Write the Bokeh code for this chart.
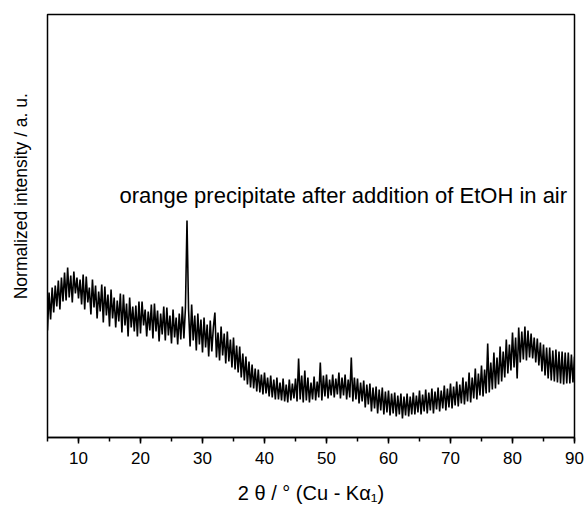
import numpy as np
from bokeh.plotting import figure
from bokeh.layouts import row
from bokeh.models import Range1d, SingleIntervalTicker, Label
from bokeh.embed import file_html
from bokeh.resources import INLINE

# ---- data (arbitrary intensity units) ----
two_theta = np.arange(5.0, 90.001, 0.25)
intensity = [
    107, 145, 118, 150,  125, 152, 131, 157,  128, 160, 136, 165,  137, 170, 140, 162,  135, 166, 144, 160,  # 5-9
    139, 158, 133, 163,  128, 161, 135, 150,  123, 158, 130, 152,  119, 146, 126, 153,  115, 151, 122, 143,  # 10-14
    111, 148, 119, 140,  110, 137, 116, 144,  105, 143, 112, 134,  101, 140, 110, 131,  106, 132, 101, 136,  # 15-19
    104, 136, 112, 128,  101, 126, 107, 133,  99, 134, 106, 127,   96, 124, 103, 131,   97, 130, 102, 122,   # 20-24
    94, 128, 100, 120,   93, 124, 98, 131,    99, 130, 217, 128,   91, 133, 97, 122,    87, 124, 93, 118,    # 25-29
    85, 120, 90, 113,    81, 117, 86, 110,    125, 80, 105, 77,    111, 82, 104, 74,    106, 76, 98, 70,     # 30-34
    100, 68, 92, 65,     91, 60, 84, 57,      81, 53, 76, 50,      73, 49, 69, 46,      68, 45, 63, 43,      # 35-39
    65, 44, 60, 41,      62, 40, 58, 38,      60, 38, 55, 37,      59, 36, 53, 35,      58, 37, 54, 39,      # 40-44
    59, 36, 79, 38,      62, 35, 67, 37,      60, 35, 55, 38,      61, 37, 56, 40,      75, 37, 62, 41,      # 45-49
    63, 39, 58, 42,      63, 40, 59, 43,      65, 39, 60, 42,      63, 38, 58, 40,      80, 36, 60, 38,      # 50-54
    59, 34, 55, 36,      57, 30, 53, 33,      54, 26, 50, 29,      51, 24, 48, 27,      50, 23, 46, 25,      # 55-59
    47, 22, 44, 24,      45, 21, 42, 23,      44, 19, 41, 22,      44, 21, 41, 23,      45, 23, 42, 25,      # 60-64
    47, 23, 43, 26,      48, 24, 45, 27,      49, 24, 46, 28,      50, 26, 47, 29,      52, 27, 49, 30,      # 65-69
    54, 29, 51, 32,      56, 31, 53, 34,      60, 33, 56, 36,      65, 35, 60, 39,      69, 38, 64, 42,      # 70-74
    72, 41, 68, 44,      94, 45, 75, 48,      85, 49, 80, 53,      91, 56, 86, 60,      98, 64, 93, 67,      # 75-79
    105, 70, 100, 59,    110, 75, 106, 78,    111, 77, 107, 80,    104, 79, 100, 75,    99, 72, 95, 66,      # 80-84
    93, 62, 90, 59,      90, 57, 87, 56,      88, 55, 86, 54,      86, 53, 85, 54,      85, 54, 83, 55,      # 85-89
    81,                                                                                                    # 90
]
x_tick_interval = 10
annotation_text = "orange precipitate after addition of EtOH in air"
y_title = "Normalized intensity / a. u."
x_title = "2 θ / ° (Cu - Kα₁)"

FONT = "Liberation Sans"

W, H = 587, 508
YT_W = 40            # width of the strip holding the y title
LEFT, TOP, BOTTOM = 47, 14, 437   # frame edges in page pixels
RIGHT_BORDER = 13
SCALE_X = (W - RIGHT_BORDER - LEFT) / 85.0


def dx(px):
    return 5 + (px - LEFT) / SCALE_X


def dy(py):
    return BOTTOM - py


# ---- main plot ----
p = figure(width=W - YT_W, height=H, output_backend="svg", toolbar_location=None,
           title=None, y_axis_location=None,
           x_range=Range1d(5, 90), y_range=Range1d(0, 423),
           min_border_left=LEFT - YT_W, min_border_right=RIGHT_BORDER,
           min_border_top=TOP, min_border_bottom=H - BOTTOM)

p.line(two_theta, intensity, line_color="black", line_width=1.6)

p.grid.visible = False
p.outline_line_color = "black"
p.outline_line_width = 1.5
p.outline_line_alpha = 1.0

xa = p.xaxis[0]
xa.ticker = SingleIntervalTicker(interval=x_tick_interval, num_minor_ticks=2)
xa.axis_line_color = "black"
xa.axis_line_width = 1.5
xa.major_tick_line_color = "black"
xa.minor_tick_line_color = "black"
xa.major_tick_line_width = 1.5
xa.minor_tick_line_width = 1.5
xa.major_tick_in = 0
xa.minor_tick_in = 0
xa.major_tick_out = 6
xa.minor_tick_out = 4
xa.major_label_text_font = FONT
xa.major_label_text_font_size = "17px"
xa.major_label_text_color = "black"
xa.major_label_standoff = 8
xa.axis_label = x_title
xa.axis_label_text_font = FONT
xa.axis_label_text_font_size = "20px"
xa.axis_label_text_font_style = "normal"
xa.axis_label_text_color = "black"
xa.axis_label_standoff = 15

p.add_layout(Label(x=dx(119), y=dy(195), text=annotation_text,
                   text_font=FONT, text_font_size="22px", text_color="black",
                   text_align="left", text_baseline="alphabetic"))

# ---- y title strip ----
yf = figure(width=YT_W, height=H, output_backend="svg", toolbar_location=None,
            title=None, x_axis_location=None, y_axis_location=None,
            x_range=Range1d(0, YT_W), y_range=Range1d(0, H),
            min_border=0, min_border_left=0, min_border_right=0,
            min_border_top=0, min_border_bottom=0)
yf.grid.visible = False
yf.outline_line_color = None
yf.add_layout(Label(x=20, y=H - 342, text=y_title, angle=np.pi / 2,
                    text_font=FONT, text_font_size="17.5px", text_color="black",
                    text_align="left", text_baseline="middle"))

layout = row(yf, p)
open("out.html", "w").write(file_html(layout, INLINE))
